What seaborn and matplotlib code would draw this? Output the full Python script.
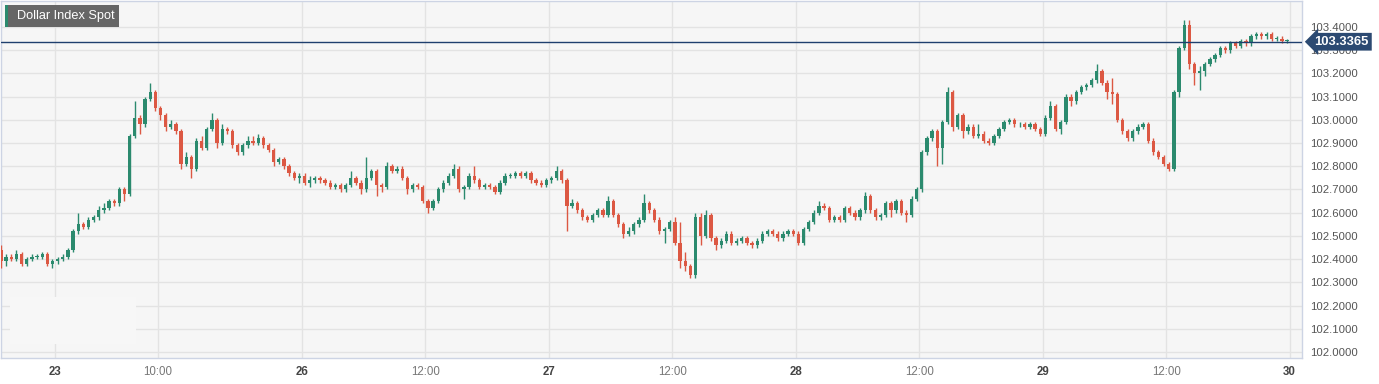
import numpy as np
import matplotlib
matplotlib.use("Agg")
import matplotlib.pyplot as plt
from matplotlib.patches import Rectangle
import seaborn as sns

# 30-minute candles, open = previous close
first_open = 102.44

d22_close = [102.39, 102.41, 102.40, 102.42, 102.38, 102.40, 102.41, 102.41, 102.42, 102.38, 102.39]
d22_high = [102.46, 102.42, 102.42, 102.44, 102.43, 102.41, 102.42, 102.42, 102.43, 102.43, 102.40]
d22_low = [102.36, 102.37, 102.39, 102.39, 102.37, 102.37, 102.39, 102.40, 102.40, 102.37, 102.36]

d23_close = [102.40, 102.41, 102.44, 102.52, 102.55, 102.54, 102.57, 102.58, 102.61, 102.62, 102.65, 102.64,
             102.70, 102.68, 102.93, 103.01, 102.98, 103.09, 103.12, 103.05, 103.02, 102.97, 102.98, 102.95,
             102.81, 102.84, 102.79, 102.91, 102.88, 102.96, 103.00, 102.90, 102.96, 102.95, 102.89, 102.86,
             102.89, 102.91, 102.90, 102.92, 102.89, 102.87, 102.82, 102.83, 102.80, 102.77, 102.75, 102.76]
d23_high = [102.41, 102.42, 102.45, 102.53, 102.60, 102.56, 102.58, 102.59, 102.63, 102.64, 102.66, 102.66,
            102.71, 102.71, 102.94, 103.08, 103.02, 103.10, 103.16, 103.13, 103.06, 103.03, 103.00, 102.99,
            102.96, 102.86, 102.85, 102.92, 102.93, 102.97, 103.03, 103.01, 102.98, 102.97, 102.96, 102.90,
            102.90, 102.93, 102.93, 102.94, 102.93, 102.90, 102.88, 102.84, 102.84, 102.81, 102.78, 102.77]
d23_low = [102.38, 102.39, 102.40, 102.43, 102.51, 102.53, 102.53, 102.56, 102.57, 102.60, 102.61, 102.63,
           102.63, 102.65, 102.67, 102.92, 102.94, 102.97, 103.08, 103.04, 103.00, 102.95, 102.96, 102.94,
           102.79, 102.80, 102.75, 102.78, 102.87, 102.87, 102.95, 102.88, 102.89, 102.94, 102.88, 102.85,
           102.85, 102.88, 102.89, 102.89, 102.88, 102.86, 102.80, 102.81, 102.79, 102.76, 102.74, 102.73]

d26_close = [102.73, 102.74, 102.75, 102.74, 102.73, 102.71, 102.72, 102.70, 102.72, 102.75, 102.73, 102.70,
             102.75, 102.78, 102.72, 102.71, 102.80, 102.78, 102.79, 102.75, 102.70, 102.72, 102.71, 102.65,
             102.62, 102.65, 102.70, 102.73, 102.76, 102.79, 102.70, 102.71, 102.76, 102.74, 102.71, 102.72,
             102.71, 102.69, 102.73, 102.76, 102.76, 102.77, 102.76, 102.77, 102.74, 102.73, 102.72, 102.74]
d26_high = [102.77, 102.76, 102.76, 102.76, 102.75, 102.74, 102.73, 102.73, 102.73, 102.78, 102.76, 102.74,
            102.84, 102.79, 102.79, 102.73, 102.82, 102.81, 102.80, 102.80, 102.76, 102.73, 102.73, 102.72,
            102.66, 102.66, 102.71, 102.74, 102.77, 102.81, 102.80, 102.72, 102.77, 102.80, 102.75, 102.73,
            102.73, 102.72, 102.74, 102.77, 102.77, 102.78, 102.78, 102.78, 102.78, 102.75, 102.74, 102.75]
d26_low = [102.72, 102.71, 102.73, 102.73, 102.72, 102.70, 102.70, 102.69, 102.69, 102.71, 102.72, 102.68,
           102.69, 102.74, 102.67, 102.69, 102.70, 102.77, 102.77, 102.74, 102.68, 102.69, 102.70, 102.64,
           102.60, 102.61, 102.64, 102.69, 102.72, 102.75, 102.69, 102.66, 102.70, 102.73, 102.70, 102.70,
           102.70, 102.68, 102.68, 102.72, 102.75, 102.75, 102.75, 102.75, 102.73, 102.72, 102.71, 102.71]

d27_close = [102.75, 102.78, 102.74, 102.63, 102.64, 102.61, 102.58, 102.57, 102.59, 102.61, 102.59, 102.65,
             102.59, 102.55, 102.51, 102.52, 102.55, 102.57, 102.64, 102.61, 102.57, 102.52, 102.53, 102.56,
             102.47, 102.39, 102.37, 102.33, 102.58, 102.50, 102.59, 102.49, 102.46, 102.48, 102.51, 102.47,
             102.48, 102.49, 102.47, 102.46, 102.48, 102.51, 102.52, 102.51, 102.49, 102.51, 102.52, 102.51]
d27_high = [102.76, 102.80, 102.79, 102.75, 102.66, 102.65, 102.62, 102.59, 102.60, 102.62, 102.62, 102.67,
            102.66, 102.60, 102.56, 102.54, 102.56, 102.58, 102.68, 102.65, 102.62, 102.58, 102.54, 102.57,
            102.58, 102.56, 102.43, 102.38, 102.60, 102.60, 102.61, 102.60, 102.50, 102.49, 102.52, 102.52,
            102.49, 102.50, 102.50, 102.48, 102.49, 102.52, 102.53, 102.53, 102.52, 102.52, 102.53, 102.53]
d27_low = [102.73, 102.74, 102.73, 102.52, 102.62, 102.60, 102.57, 102.56, 102.56, 102.58, 102.58, 102.58,
           102.58, 102.54, 102.49, 102.50, 102.51, 102.54, 102.56, 102.60, 102.56, 102.51, 102.47, 102.52,
           102.46, 102.36, 102.35, 102.32, 102.32, 102.46, 102.49, 102.48, 102.44, 102.45, 102.47, 102.46,
           102.46, 102.47, 102.46, 102.45, 102.45, 102.47, 102.50, 102.50, 102.48, 102.48, 102.50, 102.50]

d28_close = [102.47, 102.53, 102.56, 102.60, 102.63, 102.62, 102.57, 102.58, 102.57, 102.62, 102.60, 102.58,
             102.61, 102.67, 102.61, 102.58, 102.59, 102.64, 102.61, 102.65, 102.60, 102.59, 102.66, 102.70,
             102.86, 102.92, 102.95, 102.88, 102.99, 103.12, 102.97, 103.02, 102.95, 102.97, 102.93, 102.94,
             102.91, 102.90, 102.93, 102.96, 102.99, 103.00, 102.98, 102.98, 102.97, 102.98, 102.96, 102.94]
d28_high = [102.52, 102.54, 102.57, 102.61, 102.65, 102.64, 102.63, 102.59, 102.59, 102.63, 102.63, 102.61,
            102.62, 102.69, 102.68, 102.62, 102.60, 102.65, 102.65, 102.66, 102.66, 102.61, 102.67, 102.71,
            102.87, 102.93, 102.96, 102.96, 103.00, 103.14, 103.13, 103.03, 103.03, 102.98, 102.98, 102.98,
            102.95, 102.92, 102.94, 102.97, 103.00, 103.01, 103.01, 102.99, 102.99, 102.99, 102.99, 102.97]
d28_low = [102.46, 102.46, 102.52, 102.55, 102.59, 102.61, 102.56, 102.56, 102.56, 102.56, 102.59, 102.57,
           102.57, 102.60, 102.60, 102.57, 102.57, 102.58, 102.58, 102.60, 102.59, 102.56, 102.58, 102.65,
           102.69, 102.85, 102.91, 102.80, 102.81, 102.98, 102.95, 102.96, 102.92, 102.94, 102.92, 102.92,
           102.90, 102.89, 102.89, 102.92, 102.95, 102.98, 102.97, 102.97, 102.96, 102.96, 102.95, 102.93]

d29_close = [103.01, 103.06, 102.96, 102.99, 103.10, 103.08, 103.12, 103.14, 103.15, 103.17, 103.21, 103.16,
             103.12, 103.11, 103.00, 102.95, 102.92, 102.95, 102.97, 102.98, 102.91, 102.86, 102.84, 102.81,
             102.79, 103.12, 103.31, 103.41, 103.24, 103.20, 103.21, 103.24, 103.26, 103.28, 103.31, 103.30,
             103.33, 103.32, 103.34, 103.33, 103.36, 103.37, 103.36, 103.37, 103.35, 103.35, 103.34, 103.34]
d29_high = [103.02, 103.08, 103.07, 103.00, 103.11, 103.11, 103.13, 103.15, 103.16, 103.18, 103.24, 103.22,
            103.17, 103.18, 103.12, 103.01, 102.96, 102.96, 102.98, 102.99, 102.99, 102.92, 102.87, 102.85,
            102.82, 103.13, 103.32, 103.43, 103.43, 103.25, 103.23, 103.25, 103.27, 103.29, 103.32, 103.32,
            103.34, 103.34, 103.35, 103.35, 103.37, 103.38, 103.38, 103.38, 103.38, 103.36, 103.36, 103.35]
d29_low = [102.93, 103.00, 102.95, 102.94, 102.98, 103.06, 103.07, 103.11, 103.13, 103.14, 103.16, 103.15,
           103.09, 103.07, 102.99, 102.94, 102.91, 102.91, 102.94, 102.96, 102.90, 102.85, 102.83, 102.80,
           102.78, 102.78, 103.10, 103.30, 103.22, 103.15, 103.13, 103.19, 103.23, 103.25, 103.27, 103.29,
           103.29, 103.31, 103.31, 103.32, 103.32, 103.35, 103.35, 103.35, 103.34, 103.34, 103.33, 103.33]

last_price = 103.3365
tick_hours = [0, 10, 24, 36, 48, 60, 72, 84, 96, 108, 120]
tick_labels = ["23", "10:00", "26", "12:00", "27", "12:00", "28", "12:00", "29", "12:00", "30"]
date_ticks = ["23", "26", "27", "28", "29", "30"]
y_ticks = [102.0, 102.1, 102.2, 102.3, 102.4, 102.5, 102.6, 102.7, 102.8, 102.9, 103.0, 103.1, 103.2, 103.3, 103.4]

# assemble candles on a trading-hours axis (weekend removed)
days = [d23_close, d26_close, d27_close, d28_close, d29_close]
days_hi = [d23_high, d26_high, d27_high, d28_high, d29_high]
days_lo = [d23_low, d26_low, d27_low, d28_low, d29_low]
t = list(-5.25 + 0.5 * np.arange(len(d22_close)))
close = list(d22_close)
high = list(d22_high)
low = list(d22_low)
for j, (c, h, l) in enumerate(zip(days, days_hi, days_lo)):
    t += list(24 * j + 0.25 + 0.5 * np.arange(len(c)))
    close += c
    high += h
    low += l
t = np.array(t)
close = np.array(close)
high = np.array(high)
low = np.array(low)
open_ = np.concatenate([[first_open], close[:-1]])

GREEN = "#2b8a6e"
RED = "#dc5843"
colors = np.where(close >= open_, GREEN, RED)

sns.set_style("whitegrid", {"axes.facecolor": "#f6f6f6", "grid.color": "#e3e3e3",
                            "axes.edgecolor": "#cdd4e4"})
plt.rcParams["font.family"] = ["Liberation Sans", "DejaVu Sans"]

fig = plt.figure(figsize=(13.79, 3.84), dpi=100)
fig.patch.set_facecolor("white")
ax = fig.add_axes([1 / 1379, 1 - 358 / 384, 1301 / 1379, 357 / 384])

ax.vlines(t, low, high, colors=colors, linewidth=1.0, zorder=3)
body = np.maximum(np.abs(close - open_), 0.004)
ax.bar(t, body, bottom=np.minimum(open_, close), width=0.32, color=colors, linewidth=0, zorder=4)

ax.axhline(last_price, color="#1f3f6e", linewidth=1.0, zorder=5)

# blank patch in lower-left corner
ax.add_patch(Rectangle((0.007, 0.04), 0.097, 0.13, transform=ax.transAxes,
                       facecolor="#f7f7f7", edgecolor="none", zorder=1.5))

ax.set_xlim(-5.25, 121.2)
ax.set_ylim(101.974, 103.512)
ax.set_xticks(tick_hours)
ax.set_xticklabels(tick_labels)
for lab in ax.get_xticklabels():
    if lab.get_text() in date_ticks:
        lab.set_fontweight("bold")
        lab.set_color("#444444")
    else:
        lab.set_color("#777777")
    lab.set_fontsize(8.3)

ax.set_yticks(y_ticks)
ax.set_yticklabels([f"{v:.4f}" for v in y_ticks], fontsize=8.2, color="#555555")
ax.yaxis.tick_right()
ax.tick_params(axis="y", length=0, pad=6)
ax.tick_params(axis="x", length=0, pad=6)
ax.grid(True, linewidth=1.0, zorder=0)
ax.set_axisbelow(True)
for s in ax.spines.values():
    s.set_color("#cdd4e4")
    s.set_linewidth(1.0)

# last price tag
ax.annotate(f"{last_price:.4f}", xy=(1.0, last_price), xycoords=("axes fraction", "data"),
            xytext=(9, 0), textcoords="offset points", ha="left", va="center",
            fontsize=9.4, fontweight="bold", color="white",
            bbox=dict(boxstyle="larrow,pad=0.22", facecolor="#2c4a72", edgecolor="none"),
            annotation_clip=False, zorder=10)

# title tag
fig.patches.append(Rectangle((5 / 1379, 1 - 27 / 384), 114 / 1379, 22 / 384,
                             transform=fig.transFigure, facecolor="#666666", edgecolor="none", zorder=4))
fig.patches.append(Rectangle((5 / 1379, 1 - 27 / 384), 3 / 1379, 22 / 384,
                             transform=fig.transFigure, facecolor=GREEN, edgecolor="none", zorder=5))
fig.text(17 / 1379, 1 - 16.5 / 384, "Dollar Index Spot", ha="left", va="center",
         fontsize=9.2, color="white", zorder=6)

fig.savefig("out.png", dpi=100, facecolor="white")
